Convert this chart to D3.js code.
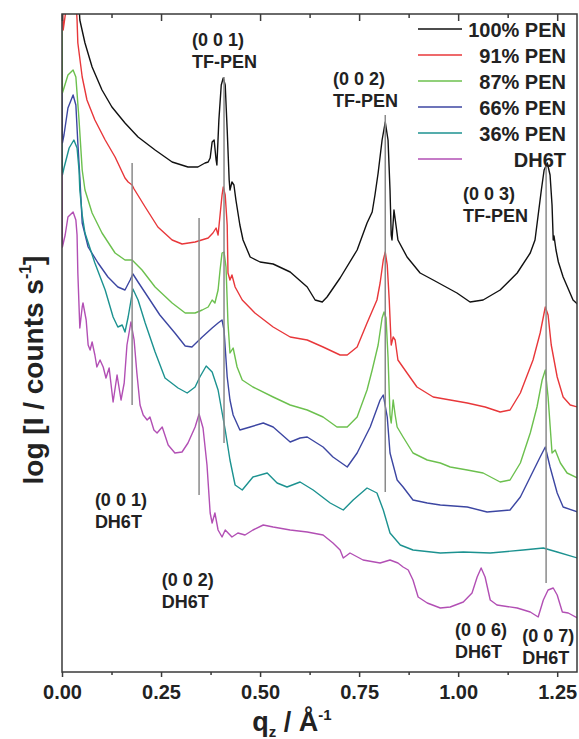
<!DOCTYPE html>
<html><head><meta charset="utf-8">
<script src="https://cdn.jsdelivr.net/npm/d3@7"></script>
<style>
body{margin:0;background:#fff}
svg text{font-family:"Liberation Sans",Arial,Helvetica,sans-serif;font-weight:bold;fill:#222}
</style>
</head><body><svg id="chart" width="579" height="739"></svg>
<script>
// ---------- DATA (q in 1/Å, log intensity in arbitrary offset units) ----------
const seriesNames = ["100% PEN", "91% PEN", "87% PEN", "66% PEN", "36% PEN", "DH6T"];
const seriesColors = ["#111111", "#e8373a", "#6cc04e", "#3c46a2", "#1c9290", "#b24fb4"];
const xTicks = [0, 0.25, 0.5, 0.75, 1.0, 1.25];
const xMinorTicks = [0.125, 0.375, 0.625, 0.875, 1.125];

const pen100 = [[0.040,6.92],[0.045,6.52],[0.058,6.29],[0.076,6.05],[0.101,5.82],[0.126,5.65],[0.159,5.49],[0.192,5.35],[0.235,5.22],[0.278,5.10],[0.318,5.05],[0.343,5.05],[0.361,5.09],[0.369,5.10],[0.374,5.14],[0.379,5.30],[0.384,5.32],[0.389,5.12],[0.391,5.07],[0.396,5.52],[0.402,5.87],[0.407,5.94],[0.412,5.87],[0.417,5.42],[0.422,4.92],[0.424,4.82],[0.429,4.90],[0.434,4.87],[0.439,4.72],[0.449,4.47],[0.457,4.32],[0.475,4.15],[0.500,4.10],[0.533,4.08],[0.576,4.00],[0.619,3.85],[0.639,3.72],[0.657,3.70],[0.669,3.75],[0.702,3.94],[0.745,4.22],[0.770,4.49],[0.783,4.60],[0.790,4.77],[0.798,4.99],[0.808,5.32],[0.816,5.50],[0.823,5.32],[0.828,4.82],[0.831,4.37],[0.833,4.32],[0.838,4.62],[0.843,4.47],[0.848,4.32],[0.871,4.15],[0.904,3.99],[0.937,3.92],[0.997,3.79],[1.030,3.70],[1.063,3.72],[1.106,3.82],[1.149,3.99],[1.182,4.19],[1.194,4.32],[1.202,4.57],[1.210,4.82],[1.217,5.02],[1.225,5.09],[1.232,4.97],[1.237,4.67],[1.240,4.32],[1.242,4.36],[1.247,4.22],[1.253,4.10],[1.265,3.95],[1.290,3.72],[1.301,3.68]];

const pen91 = [[0.000,6.80],[0.003,6.42],[0.010,6.62],[0.025,6.92],[0.035,6.72],[0.038,6.52],[0.040,6.29],[0.051,5.95],[0.063,5.72],[0.083,5.52],[0.109,5.32],[0.134,5.15],[0.159,4.94],[0.167,4.90],[0.177,4.87],[0.182,4.83],[0.210,4.65],[0.242,4.45],[0.278,4.32],[0.303,4.28],[0.336,4.30],[0.369,4.34],[0.381,4.39],[0.389,4.44],[0.394,4.37],[0.399,4.57],[0.404,4.77],[0.407,4.85],[0.412,4.77],[0.417,4.47],[0.419,3.99],[0.424,3.92],[0.429,3.97],[0.437,3.85],[0.455,3.72],[0.487,3.59],[0.533,3.45],[0.576,3.35],[0.619,3.32],[0.659,3.25],[0.702,3.17],[0.720,3.17],[0.745,3.25],[0.770,3.49],[0.795,3.72],[0.803,3.89],[0.811,4.12],[0.816,4.20],[0.821,4.07],[0.826,3.72],[0.831,3.27],[0.836,3.35],[0.841,3.32],[0.848,3.12],[0.871,2.99],[0.896,2.85],[0.937,2.75],[0.980,2.72],[1.023,2.69],[1.068,2.65],[1.106,2.60],[1.131,2.62],[1.157,2.79],[1.189,3.12],[1.207,3.39],[1.220,3.65],[1.227,3.57],[1.235,3.27],[1.250,2.95],[1.265,2.75],[1.283,2.67],[1.301,2.65]];

const pen87 = [[0.000,6.42],[0.001,5.79],[0.005,5.84],[0.015,5.97],[0.028,6.02],[0.035,5.95],[0.043,5.52],[0.051,5.02],[0.058,4.82],[0.076,4.59],[0.101,4.39],[0.134,4.19],[0.159,4.12],[0.177,4.12],[0.202,4.02],[0.235,3.85],[0.278,3.69],[0.311,3.59],[0.336,3.59],[0.354,3.62],[0.369,3.65],[0.379,3.72],[0.386,3.69],[0.394,3.82],[0.399,4.02],[0.404,4.19],[0.409,4.20],[0.414,4.05],[0.419,3.49],[0.424,3.19],[0.432,3.24],[0.442,3.05],[0.455,2.92],[0.482,2.85],[0.533,2.75],[0.576,2.67],[0.619,2.62],[0.659,2.55],[0.694,2.45],[0.720,2.45],[0.745,2.55],[0.770,2.82],[0.783,3.02],[0.798,3.27],[0.808,3.54],[0.813,3.60],[0.818,3.54],[0.823,3.15],[0.828,2.57],[0.831,2.49],[0.836,2.72],[0.841,2.57],[0.846,2.45],[0.861,2.35],[0.886,2.19],[0.922,2.12],[0.955,2.09],[0.980,2.05],[1.023,2.02],[1.063,1.99],[1.106,1.90],[1.131,1.92],[1.157,2.09],[1.182,2.39],[1.199,2.65],[1.212,2.92],[1.220,3.02],[1.227,2.75],[1.237,2.19],[1.245,2.22],[1.258,2.09],[1.275,1.99],[1.301,1.94]];

const pen66 = [[0.000,5.79],[0.001,5.29],[0.005,5.37],[0.015,5.64],[0.028,5.77],[0.035,5.67],[0.040,5.29],[0.045,4.95],[0.051,4.49],[0.066,4.25],[0.091,4.09],[0.116,3.95],[0.141,3.85],[0.159,3.82],[0.172,3.92],[0.179,3.98],[0.192,3.90],[0.217,3.75],[0.247,3.57],[0.285,3.39],[0.311,3.26],[0.328,3.25],[0.354,3.35],[0.379,3.44],[0.394,3.49],[0.404,3.52],[0.409,3.42],[0.417,2.95],[0.424,2.72],[0.432,2.57],[0.449,2.42],[0.475,2.45],[0.508,2.49],[0.533,2.45],[0.576,2.30],[0.601,2.34],[0.619,2.35],[0.659,2.25],[0.684,2.15],[0.720,2.05],[0.745,2.19],[0.778,2.45],[0.803,2.72],[0.811,2.77],[0.821,2.55],[0.828,2.19],[0.846,1.92],[0.861,1.85],[0.886,1.72],[0.922,1.69],[0.955,1.67],[1.023,1.65],[1.073,1.60],[1.131,1.62],[1.157,1.75],[1.182,1.95],[1.207,2.15],[1.220,2.25],[1.232,2.05],[1.250,1.79],[1.265,1.65],[1.301,1.60]];

const pen36 = [[0.000,5.29],[0.001,4.97],[0.005,5.04],[0.018,5.24],[0.030,5.32],[0.038,5.24],[0.043,5.02],[0.045,4.82],[0.051,4.57],[0.058,4.39],[0.083,4.09],[0.109,3.82],[0.129,3.55],[0.141,3.45],[0.152,3.47],[0.159,3.40],[0.167,3.55],[0.179,3.83],[0.192,3.72],[0.210,3.49],[0.235,3.20],[0.260,2.94],[0.293,2.84],[0.316,2.79],[0.336,2.85],[0.348,2.95],[0.364,3.06],[0.379,3.00],[0.394,2.82],[0.412,2.42],[0.424,2.12],[0.437,1.87],[0.455,1.82],[0.482,1.95],[0.518,1.99],[0.543,1.89],[0.568,1.85],[0.601,1.90],[0.634,1.82],[0.677,1.69],[0.710,1.62],[0.735,1.72],[0.770,1.84],[0.795,1.79],[0.811,1.62],[0.828,1.39],[0.854,1.27],[0.886,1.22],[0.955,1.19],[1.013,1.20],[1.081,1.19],[1.164,1.22],[1.215,1.24],[1.250,1.20],[1.301,1.14]];

const dh6t = [[0.000,4.99],[0.001,4.25],[0.008,4.37],[0.015,4.55],[0.028,4.60],[0.035,4.52],[0.038,4.37],[0.040,3.99],[0.045,3.44],[0.051,3.65],[0.053,3.69],[0.061,3.52],[0.066,3.27],[0.071,3.22],[0.076,3.30],[0.083,3.17],[0.088,3.05],[0.096,3.12],[0.104,3.05],[0.111,2.94],[0.119,3.04],[0.129,2.70],[0.139,2.97],[0.149,2.72],[0.157,2.89],[0.164,3.27],[0.174,3.50],[0.182,3.32],[0.189,2.99],[0.197,2.67],[0.205,2.57],[0.215,2.52],[0.222,2.55],[0.232,2.42],[0.240,2.39],[0.253,2.45],[0.268,2.27],[0.285,2.19],[0.303,2.20],[0.318,2.29],[0.336,2.45],[0.346,2.58],[0.356,2.44],[0.366,2.07],[0.374,1.59],[0.379,1.49],[0.386,1.59],[0.394,1.42],[0.404,1.35],[0.412,1.42],[0.429,1.35],[0.444,1.39],[0.462,1.37],[0.482,1.42],[0.508,1.47],[0.533,1.45],[0.576,1.42],[0.619,1.40],[0.659,1.37],[0.684,1.29],[0.702,1.22],[0.710,1.14],[0.727,1.19],[0.760,1.12],[0.803,1.09],[0.828,1.12],[0.848,1.09],[0.861,1.05],[0.874,1.02],[0.886,0.92],[0.899,0.75],[0.922,0.69],[0.955,0.64],[0.980,0.65],[1.013,0.70],[1.035,0.79],[1.048,0.95],[1.058,1.04],[1.068,0.95],[1.081,0.72],[1.098,0.67],[1.149,0.64],[1.182,0.60],[1.202,0.55],[1.215,0.72],[1.227,0.82],[1.240,0.84],[1.250,0.77],[1.263,0.60],[1.278,0.59],[1.301,0.54]];

const seriesData = [pen100, pen91, pen87, pen66, pen36, dh6t];

// reflection marker lines: q position, top and bottom (log units)
const markerQ = [0.177, 0.346, 0.409, 0.816, 1.222];
const markerTop = [5.09, 4.54, 5.95, 5.57, 5.09];
const markerBottom = [2.67, 1.77, 2.29, 1.80, 0.89];

// reflection labels
const labelLine1 = ["(0 0 1)", "(0 0 2)", "(0 0 3)", "(0 0 1)", "(0 0 2)", "(0 0 6)", "(0 0 7)"];
const labelLine2 = ["TF-PEN", "TF-PEN", "TF-PEN", "DH6T", "DH6T", "DH6T", "DH6T"];

// ---------- LAYOUT ----------
const svg = d3.select("#chart");
const m = {left: 62, right: 577, top: 14, bottom: 672};
const x = d3.scaleLinear().domain([0, 1.3]).range([m.left, m.right]);
const y = d3.scaleLinear().domain([0, 6.58]).range([m.bottom, m.top]);

svg.append("defs").append("clipPath").attr("id", "plotclip")
  .append("rect").attr("x", m.left).attr("y", m.top)
  .attr("width", m.right - m.left).attr("height", m.bottom - m.top);

const line = d3.line().x(d => x(d[0])).y(d => y(d[1]));
const gPlot = svg.append("g").attr("clip-path", "url(#plotclip)");
seriesData.forEach((s, i) => {
  gPlot.append("path").datum(s).attr("d", line)
    .attr("fill", "none").attr("stroke", seriesColors[i])
    .attr("stroke-width", 1.4).attr("stroke-linejoin", "round");
});

// marker lines
markerQ.forEach((q, i) => {
  svg.append("line").attr("x1", x(q)).attr("x2", x(q))
    .attr("y1", y(markerTop[i])).attr("y2", y(markerBottom[i]))
    .attr("stroke", "#8a8a8a").attr("stroke-width", 1.5);
});

// frame
const axisColor = "#3a3a3a";
svg.append("rect").attr("x", m.left).attr("y", m.top)
  .attr("width", m.right - m.left).attr("height", m.bottom - m.top)
  .attr("fill", "none").attr("stroke", axisColor).attr("stroke-width", 1.5);

// bottom axis (ticks outward)
const gx = svg.append("g").attr("transform", `translate(0,${m.bottom})`)
  .call(d3.axisBottom(x).tickValues(xTicks).tickFormat(d3.format(".2f")).tickSize(5).tickPadding(8));
gx.select(".domain").remove();
gx.selectAll("line").attr("stroke", axisColor).attr("stroke-width", 1.5);
gx.selectAll("text").style("font-size", "20px").attr("fill", "#222");
const gxm = svg.append("g").attr("transform", `translate(0,${m.bottom})`)
  .call(d3.axisBottom(x).tickValues(xMinorTicks).tickFormat("").tickSize(3));
gxm.select(".domain").remove();
gxm.selectAll("line").attr("stroke", axisColor).attr("stroke-width", 1.5);

// top axis (ticks inward)
const gt = svg.append("g").attr("transform", `translate(0,${m.top})`)
  .call(d3.axisBottom(x).tickValues(xTicks).tickFormat("").tickSize(7));
gt.select(".domain").remove();
gt.selectAll("line").attr("stroke", axisColor).attr("stroke-width", 1.5);
const gtm = svg.append("g").attr("transform", `translate(0,${m.top})`)
  .call(d3.axisBottom(x).tickValues(xMinorTicks).tickFormat("").tickSize(4));
gtm.select(".domain").remove();
gtm.selectAll("line").attr("stroke", axisColor).attr("stroke-width", 1.5);

// axis titles
const xt = svg.append("text").attr("x", 292).attr("y", 731).attr("text-anchor", "middle")
  .style("font-size", "27px");
xt.append("tspan").text("q");
xt.append("tspan").text("z").style("font-size", "15px").attr("dy", 6);
xt.append("tspan").text(" / Å").attr("dy", -6);
xt.append("tspan").text("-1").style("font-size", "15px").attr("dy", -11);

const yt = svg.append("text").attr("transform", "translate(43,370) rotate(-90)")
  .attr("text-anchor", "middle").style("font-size", "28px");
yt.append("tspan").text("log [I / counts s");
yt.append("tspan").text("-1").style("font-size", "16px").attr("dy", -12);
yt.append("tspan").text("]").attr("dy", 12);

// reflection labels (left x in q, baseline of first line in log units)
const labelQ = [0.328, 0.684, 1.012, 0.083, 0.252, 0.992, 1.162];
const labelV = [6.26, 5.87, 4.72, 1.66, 0.86, 0.36, 0.30];
labelLine1.forEach((t, i) => {
  const g = svg.append("text").attr("x", x(labelQ[i])).attr("y", y(labelV[i]))
    .style("font-size", "18px");
  g.append("tspan").text(t);
  g.append("tspan").attr("x", x(labelQ[i])).attr("dy", 22).text(labelLine2[i]);
});

// legend
const lg = svg.append("g");
seriesNames.forEach((n, i) => {
  const by = 37 + i * 26;
  lg.append("line").attr("x1", 418).attr("x2", 462).attr("y1", by - 8).attr("y2", by - 8)
    .attr("stroke", seriesColors[i]).attr("stroke-width", 1.5);
  lg.append("text").attr("x", 566).attr("y", by).attr("text-anchor", "end")
    .style("font-size", "20px").text(n);
});
</script>
</body></html>
